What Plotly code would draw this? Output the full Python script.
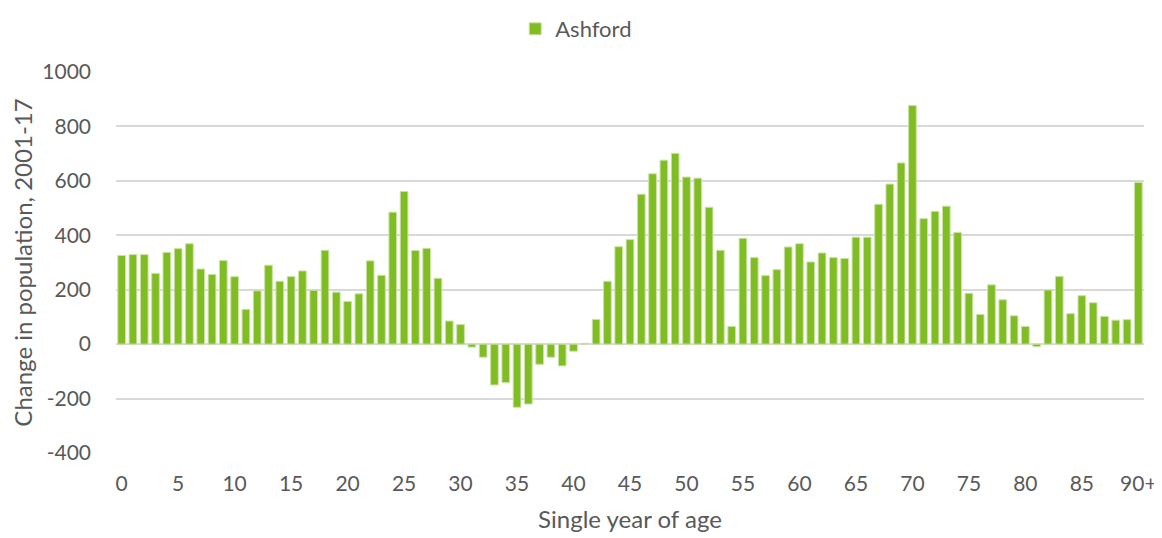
import plotly.graph_objects as go

ages = [str(i) for i in range(90)] + ["90+"]
change = [
    326, 329, 329, 260, 337, 351, 369, 276, 256, 307,
    248, 128, 196, 290, 231, 248, 269, 198, 345, 191,
    157, 185, 306, 253, 485, 561, 344, 352, 242, 85,
    72, -11, -48, -150, -141, -232, -220, -74, -48, -80,
    -26, 3, 91, 231, 358, 384, 551, 626, 676, 701,
    614, 610, 503, 345, 65, 389, 318, 252, 274, 357,
    369, 302, 335, 318, 315, 393, 393, 514, 588, 666,
    877, 461, 488, 507, 410, 187, 109, 218, 163, 104,
    65, -9, 199, 249, 112, 178, 152, 102, 88, 90,
    594,
]
tick_labels = ["0", "5", "10", "15", "20", "25", "30", "35", "40", "45",
               "50", "55", "60", "65", "70", "75", "80", "85", "90+"]
y_ticks = [-400, -200, 0, 200, 400, 600, 800, 1000]
y_tick_text = ["-400", "-200", "0", "200", "400", "600", "800", "1000"]

font_family = "Lato, 'Open Sans', sans-serif"
grey = "#595959"

fig = go.Figure()
fig.add_trace(go.Bar(
    x=ages, y=change, name="Ashford",
    marker=dict(color="#80bc23", line=dict(color="#c9e3a3", width=1)),
    showlegend=True,
))

fig.update_layout(
    width=1162, height=538,
    margin=dict(l=108, r=26, t=64, b=93, autoexpand=False),
    plot_bgcolor="white", paper_bgcolor="white",
    bargap=0.32,
    font=dict(family=font_family, color=grey, size=21),
    legend=dict(orientation="h", xref="container", x=0.489, xanchor="center",
                yref="container", y=1.0, yanchor="top",
                font=dict(size=22, color=grey), itemwidth=30),
    xaxis=dict(
        type="category",
        tickmode="array", tickvals=tick_labels, ticktext=tick_labels,
        showgrid=False, showline=False, ticks="",
        ticklabelstandoff=16,
        tickfont=dict(size=21, color=grey),
        title=dict(text="Single year of age", font=dict(size=24, color=grey), standoff=17),
    ),
    yaxis=dict(
        range=[-400, 1000], tickvals=y_ticks, ticktext=y_tick_text,
        showgrid=True, gridcolor="#d9d9d9", gridwidth=1.5,
        zeroline=True, zerolinecolor="#d9d9d9", zerolinewidth=1.5,
        showline=False, ticks="",
        ticklabelstandoff=24,
        tickfont=dict(size=21, color=grey),
        title=dict(text="Change in population, 2001-17", font=dict(size=24, color=grey), standoff=6),
    ),
)

fig.write_html("out.html")
